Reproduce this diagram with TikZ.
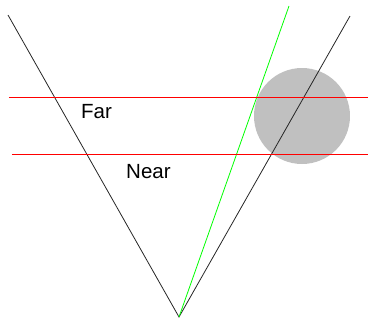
\documentclass[tikz,border=0pt]{standalone}
\usepackage{fontspec}
\setmainfont{Liberation Sans}
\definecolor{planered}{RGB}{255,0,0}
\definecolor{ballgray}{RGB}{192,192,192}
\definecolor{raygreen}{RGB}{0,255,0}
\begin{document}
\begin{tikzpicture}[x=1pt,y=-1pt,
  ray/.style={line width=0.8pt},
  plane/.style={line width=1pt,draw=planered},
  lbl/.style={font=\fontsize{20.5}{24}\selectfont,inner sep=0pt,anchor=base west}]
\useasboundingbox (0,0) rectangle (368,325);
\node[circle,fill=ballgray,minimum size=96pt,inner sep=0pt] (ball) at (302,116) {};
\coordinate (apex) at (179,317);
\coordinate (lt) at (8,15);
\coordinate (rt) at (350,16);
\coordinate (gt) at (289,6);
\coordinate (farA) at (9,97.5);
\coordinate (farB) at (368,97.5);
\coordinate (nearA) at (12,154.5);
\coordinate (nearB) at (368,154.5);
\draw[ray,draw=black!85] (lt) -- (apex) -- (rt);
\draw[ray,draw=raygreen] (apex) -- (gt);
\draw[plane] (farA) -- (farB);
\draw[plane] (nearA) -- (nearB);
\node[lbl] (far) at (81,118) {Far};
\node[lbl] (near) at (126,178) {Near};
\end{tikzpicture}
\end{document}
